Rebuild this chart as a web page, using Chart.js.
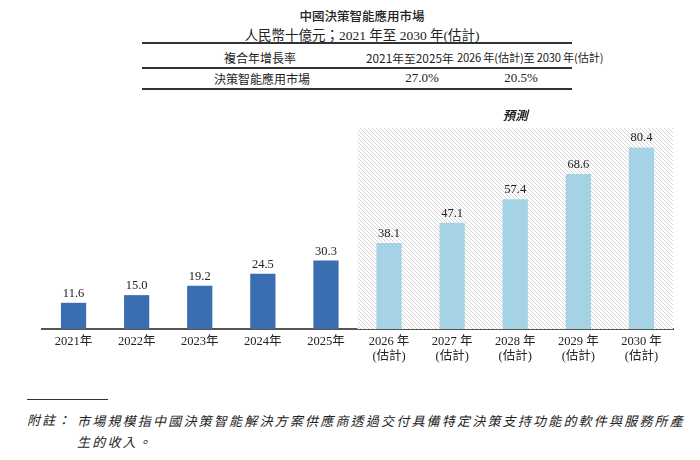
<!DOCTYPE html>
<html>
<head>
<meta charset="utf-8">
<script src="https://cdn.jsdelivr.net/npm/chart.js@4.4.0/dist/chart.umd.min.js"></script>
<style>
  body { margin: 0; background: #fff; width: 700px; height: 460px; position: relative; overflow: hidden; color: #222; }
  .abs { position: absolute; white-space: nowrap; }
  .sans { font-family: 'Noto Sans CJK TC', 'Noto Sans', sans-serif; }
  .serif { font-family: 'Liberation Serif', 'Noto Sans CJK TC', serif; }
  .rule { position: absolute; background: #333; }
  #chartWrap { position: absolute; left: 0; top: 100px; width: 700px; height: 269px; }
</style>
</head>
<body>
<div class="abs sans" style="left:0;width:724px;top:6px;text-align:center;font-size:12.5px;font-weight:500;">中國決策智能應用市場</div>
<div class="abs serif" style="left:0;width:724px;top:24px;text-align:center;font-size:13.5px;">人民幣十億元；2021 年至 2030 年(估計)</div>

<div class="rule" style="left:142px;width:430px;top:42px;height:2px;"></div>
<div class="rule" style="left:142px;width:430px;top:67px;height:1.5px;"></div>
<div class="rule" style="left:142px;width:430px;top:88px;height:1.5px;"></div>

<div class="abs sans" style="left:200px;width:120px;top:49px;text-align:center;font-size:12px;">複合年增長率</div>
<div class="abs sans" style="left:366px;top:49px;font-size:11.8px;">2021年至2025年</div>
<div class="abs sans" style="left:457px;top:49px;font-size:11.2px;letter-spacing:-0.2px;">2026 年(估計)至 2030 年(估計)</div>
<div class="abs sans" style="left:200px;width:124px;top:70px;text-align:center;font-size:12px;">決策智能應用市場</div>
<div class="abs serif" style="left:382px;width:80px;top:70px;text-align:center;font-size:13px;">27.0%</div>
<div class="abs serif" style="left:481px;width:80px;top:70px;text-align:center;font-size:13px;">20.5%</div>

<div id="chartWrap"><canvas id="marketChart"></canvas></div>

<div class="rule" style="left:27px;width:81px;top:399px;height:1px;"></div>
<div class="abs sans" style="left:27px;top:410px;font-size:13px;font-style:italic;letter-spacing:2px;">附註：</div>
<div class="abs sans" style="left:77px;top:410px;font-size:13px;font-style:italic;letter-spacing:2.2px;line-height:21px;">市場規模指中國決策智能解決方案供應商透過交付具備特定決策支持功能的軟件與服務所產<br>生的收入。</div>

<script>
// data
const years = ['2021年', '2022年', '2023年', '2024年', '2025年',
  ['2026 年', '(估計)'], ['2027 年', '(估計)'], ['2028 年', '(估計)'], ['2029 年', '(估計)'], ['2030 年', '(估計)']];
const marketSize = [11.6, 15.0, 19.2, 24.5, 30.3, 38.1, 47.1, 57.4, 68.6, 80.4];
const firstForecast = 5;

const darkBlue = '#3a6eb0';
const lightBlue = '#a5d3e5';

// diagonal hatch for the forecast zone
function makeHatch() {
  const c = document.createElement('canvas');
  c.width = 4; c.height = 4;
  const g = c.getContext('2d');
  g.fillStyle = '#fff';
  g.fillRect(0, 0, 4, 4);
  g.strokeStyle = '#d6d6d6';
  g.lineWidth = 1;
  g.beginPath();
  g.moveTo(0, 0); g.lineTo(4, 4);
  g.moveTo(-1, 3); g.lineTo(1, 5);
  g.moveTo(3, -1); g.lineTo(5, 1);
  g.stroke();
  return g.createPattern(c, 'repeat');
}

const forecastZone = {
  id: 'forecastZone',
  beforeDatasetsDraw(chart) {
    const { ctx, chartArea, scales } = chart;
    const x0 = (scales.x.getPixelForValue(firstForecast - 1) + scales.x.getPixelForValue(firstForecast)) / 2;
    ctx.save();
    ctx.fillStyle = makeHatch();
    ctx.fillRect(x0, chartArea.top, chartArea.right - x0, chartArea.bottom - chartArea.top);
    ctx.fillStyle = '#222';
    ctx.font = 'italic bold 12.5px "Noto Sans CJK TC", sans-serif';
    ctx.textAlign = 'center';
    ctx.textBaseline = 'middle';
    ctx.fillText('預測', (x0 + chartArea.right) / 2, chartArea.top - 13);
    ctx.restore();
  }
};

const barLabels = {
  id: 'barLabels',
  afterDatasetsDraw(chart) {
    const { ctx } = chart;
    const meta = chart.getDatasetMeta(0);
    ctx.save();
    ctx.fillStyle = '#222';
    ctx.font = '12.5px "Liberation Serif", serif';
    ctx.textAlign = 'center';
    ctx.textBaseline = 'bottom';
    meta.data.forEach((bar, i) => {
      ctx.fillText(marketSize[i].toFixed(1), bar.x, bar.y - 3);
    });
    ctx.restore();
  }
};

new Chart(document.getElementById('marketChart'), {
  type: 'bar',
  data: {
    labels: years,
    datasets: [{
      data: marketSize,
      backgroundColor: marketSize.map((v, i) => i < firstForecast ? darkBlue : lightBlue),
      barPercentage: 0.4,
      categoryPercentage: 1.0
    }]
  },
  options: {
    responsive: true,
    maintainAspectRatio: false,
    animation: false,
    layout: { padding: { left: 42, right: 27, top: 28, bottom: 0 } },
    plugins: { legend: { display: false }, tooltip: { enabled: false } },
    scales: {
      x: {
        grid: { display: false, drawTicks: false },
        border: { color: '#555', width: 2 },
        ticks: {
          color: '#222',
          font: { family: '"Liberation Serif", "Noto Sans CJK TC", serif', size: 12.5, lineHeight: 1.2 },
          maxRotation: 0,
          autoSkip: false,
          padding: 5
        }
      },
      y: {
        display: false,
        min: 0,
        max: 89
      }
    }
  },
  plugins: [forecastZone, barLabels]
});
</script>
</body>
</html>
